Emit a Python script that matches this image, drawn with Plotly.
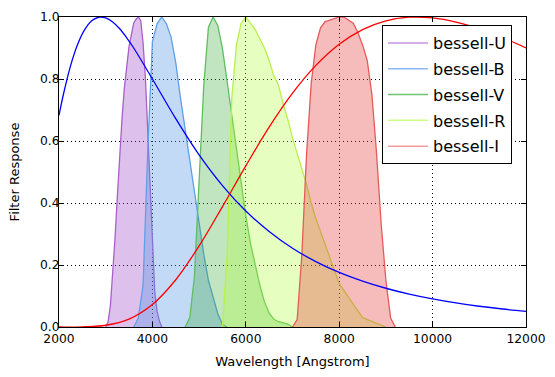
import plotly.graph_objects as go

# ---------------- data ----------------
u_wave = [3000, 3050, 3100, 3150, 3200, 3250, 3300, 3350, 3400, 3450, 3500, 3550, 3600, 3650, 3700,
          3750, 3800, 3850, 3900, 3950, 4000, 4050, 4100, 4150, 4200]
u_resp = [0.000, 0.016, 0.068, 0.167, 0.287, 0.423, 0.560, 0.673, 0.772, 0.841, 0.905, 0.943, 0.981,
          0.993, 1.000, 0.989, 0.916, 0.804, 0.625, 0.423, 0.238, 0.114, 0.051, 0.019, 0.000]

b_wave = [3600, 3700, 3800, 3900, 4000, 4100, 4200, 4300, 4400, 4500, 4600, 4700, 4800, 4900, 5000,
          5100, 5200, 5300, 5400, 5500, 5600]
b_resp = [0.000, 0.030, 0.134, 0.567, 0.920, 0.978, 1.000, 0.978, 0.935, 0.853, 0.740, 0.640, 0.536,
          0.424, 0.325, 0.235, 0.150, 0.095, 0.043, 0.009, 0.000]

v_wave = [4700, 4800, 4900, 5000, 5100, 5200, 5300, 5400, 5500, 5600, 5700, 5800, 5900, 6000, 6100,
          6200, 6300, 6400, 6500, 6600, 6700, 6800, 6900, 7000]
v_resp = [0.000, 0.030, 0.163, 0.458, 0.780, 0.967, 1.000, 0.973, 0.898, 0.792, 0.684, 0.574, 0.461,
          0.359, 0.270, 0.197, 0.135, 0.081, 0.045, 0.025, 0.017, 0.013, 0.009, 0.000]

r_wave = [5500, 5600, 5700, 5800, 5900, 6000, 6100, 6200, 6300, 6400, 6500, 6600, 6700, 6800, 6900,
          7000, 7100, 7200, 7300, 7400, 7500, 8000, 8500, 9000]
r_resp = [0.00, 0.23, 0.74, 0.91, 0.98, 1.00, 0.98, 0.96, 0.93, 0.90, 0.86, 0.81, 0.78, 0.72, 0.67,
          0.61, 0.56, 0.51, 0.46, 0.40, 0.35, 0.14, 0.03, 0.00]

i_wave = [7000, 7100, 7200, 7300, 7400, 7500, 7600, 7700, 7800, 7900, 8000, 8100, 8200, 8300, 8400,
          8500, 8600, 8700, 8800, 8900, 9000, 9100, 9200]
i_resp = [0.000, 0.024, 0.232, 0.555, 0.785, 0.910, 0.965, 0.985, 0.990, 0.995, 1.000, 1.000, 0.990,
          0.980, 0.950, 0.910, 0.860, 0.750, 0.560, 0.330, 0.150, 0.030, 0.000]

# blackbody-like curves (hot: blue, cool: red)
hot_wave = [2000, 2100, 2250, 2400, 2550, 2700, 2850, 3000, 3150, 3300, 3450, 3600, 4000, 4500, 5000,
            5500, 6000, 6500, 7000, 7500, 8000, 8500, 9000, 9500, 10000, 10500, 11000, 11500, 12000]
hot_resp = [0.683, 0.754, 0.844, 0.912, 0.959, 0.988, 0.999, 0.997, 0.984, 0.962, 0.933, 0.900, 0.800,
            0.672, 0.555, 0.456, 0.374, 0.308, 0.254, 0.211, 0.176, 0.148, 0.125, 0.106, 0.0905,
            0.0776, 0.0669, 0.0580, 0.0505]

cool_wave = [2000, 2500, 3000, 3500, 4000, 4500, 5000, 5500, 6000, 6500, 7000, 7500, 8000, 8500, 9000,
             9500, 10000, 10500, 11000, 11500, 12000]
cool_resp = [0.0000, 0.0006, 0.0056, 0.0255, 0.0725, 0.1525, 0.2615, 0.3884, 0.5199, 0.6446, 0.7542,
             0.8439, 0.9121, 0.9594, 0.9877, 0.9993, 0.9971, 0.9838, 0.9618, 0.9334, 0.9004]

filter_names = ["bessell-U", "bessell-B", "bessell-V", "bessell-R", "bessell-I"]
x_ticks = [2000, 4000, 6000, 8000, 10000, 12000]
y_ticks = [0.0, 0.2, 0.4, 0.6, 0.8, 1.0]

# ---------------- styles ----------------
line_colors = ["rgb(170,95,205)", "rgb(95,160,230)", "rgb(95,190,95)", "rgb(185,240,75)", "rgb(230,90,90)"]
legend_colors = ["rgba(153,60,200,0.55)", "rgba(60,140,230,0.6)", "rgba(50,170,50,0.7)",
                 "rgba(173,255,47,0.6)", "rgba(230,60,60,0.5)"]
fill_colors = ["rgba(153,60,200,0.32)", "rgba(80,150,230,0.35)", "rgba(50,170,50,0.30)",
               "rgba(173,255,47,0.30)", "rgba(230,60,60,0.35)"]

fig = go.Figure()

waves = [u_wave, b_wave, v_wave, r_wave, i_wave]
resps = [u_resp, b_resp, v_resp, r_resp, i_resp]

for name, w, r, lc, fc in zip(filter_names, waves, resps, line_colors, fill_colors):
    fig.add_trace(go.Scatter(x=w, y=r, mode="lines", fill="tozeroy", fillcolor=fc,
                             line=dict(width=1.3, color=lc), showlegend=False, hoverinfo="skip"))

# legend-only entries (line samples)
for name, lgc in zip(filter_names, legend_colors):
    fig.add_trace(go.Scatter(x=[None], y=[None], mode="lines", name=name, legendgroup=name,
                             line=dict(width=1.5, color=lgc)))

fig.add_trace(go.Scatter(x=hot_wave, y=hot_resp, mode="lines", line=dict(color="#0000ff", width=1.3, shape="spline"),
                         showlegend=False))
fig.add_trace(go.Scatter(x=cool_wave, y=cool_resp, mode="lines", line=dict(color="#ff0000", width=1.3, shape="spline"),
                         showlegend=False))

font_family = "DejaVu Sans"
axis_common = dict(showline=True, linecolor="black", linewidth=1, mirror="allticks",
                   ticks="inside", ticklen=5, tickcolor="black", tickwidth=1,
                   showgrid=True, gridcolor="black", gridwidth=1, griddash="1px,3px",
                   zeroline=False, layer="above traces",
                   tickfont=dict(family=font_family, size=12.3, color="black"))

fig.update_xaxes(range=[2000, 12000], tickvals=x_ticks, ticktext=[str(t) for t in x_ticks],
                 title=dict(text="Wavelength [Angstrom]", font=dict(family=font_family, size=13, color="black"),
                            standoff=12),
                 **axis_common)
fig.update_yaxes(range=[0, 1], tickvals=y_ticks, ticktext=[f"{t:.1f}" for t in y_ticks],
                 ticklabelstandoff=-4,
                 title=dict(text="Filter Response", font=dict(family=font_family, size=13, color="black"),
                            standoff=17),
                 **axis_common)

fig.update_layout(
    width=555, height=377,
    margin=dict(l=59, r=29, t=17, b=50, autoexpand=False),
    paper_bgcolor="white", plot_bgcolor="white",
    font=dict(family=font_family, color="black"),
    legend=dict(x=0.97, y=0.974, xanchor="right", yanchor="top",
                bgcolor="white", bordercolor="black", borderwidth=1,
                font=dict(family=font_family, size=16, color="black"),
                traceorder="grouped", tracegroupgap=2, itemwidth=40),
)

fig.write_html("out.html", config={"displayModeBar": False},
               post_script="document.body.style.margin='0';")
